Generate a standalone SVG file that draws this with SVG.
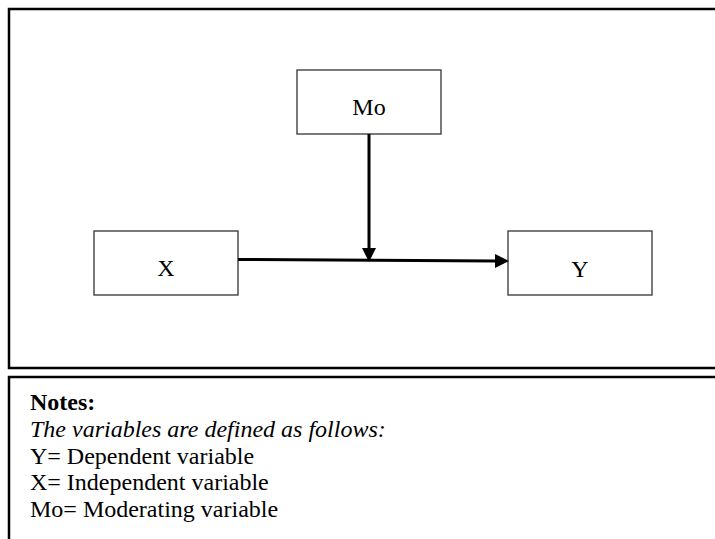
<svg xmlns="http://www.w3.org/2000/svg" width="715" height="539" viewBox="0 0 715 539">
<defs>
<style>
.frame{fill:none;stroke:#000;stroke-width:2.5}
.box{fill:#fff;stroke:#333;stroke-width:1.3}
.lbl{font-family:"Liberation Serif","Times New Roman",serif;font-size:24px;fill:#000;text-anchor:middle}
.note{font-family:"Liberation Serif","Times New Roman",serif;font-size:24px;fill:#000}
.conn{stroke:#000;stroke-width:3;fill:none}
</style>
<marker id="ah" markerUnits="userSpaceOnUse" markerWidth="14" markerHeight="14" viewBox="0 0 14 14" refX="0" refY="7" orient="auto">
<path d="M0,0 L14,7 L0,14 z" fill="#000"/>
</marker>
</defs>
<rect class="frame" x="9" y="9" width="730" height="359"/>
<rect class="frame" x="9" y="377" width="730" height="200"/>
<g id="node-mo">
<rect class="box" x="297" y="70" width="144" height="64"/>
<text class="lbl" x="369" y="115">Mo</text>
</g>
<g id="node-x">
<rect class="box" x="94" y="231" width="144" height="64"/>
<text class="lbl" x="166" y="276">X</text>
</g>
<g id="node-y">
<rect class="box" x="508" y="231" width="144" height="64"/>
<text class="lbl" x="580" y="277">Y</text>
</g>
<g id="connectors">
<line class="conn" x1="238" y1="259.5" x2="495" y2="261" marker-end="url(#ah)"/>
<line class="conn" x1="369" y1="134" x2="369" y2="248" marker-end="url(#ah)"/>
</g>
<g id="notes">
<text class="note" x="30" y="410" font-weight="bold">Notes:</text>
<text class="note" x="30" y="437" font-style="italic">The variables are defined as follows:</text>
<text class="note" x="30" y="464">Y= Dependent variable</text>
<text class="note" x="30" y="490">X= Independent variable</text>
<text class="note" x="30" y="517">Mo= Moderating variable</text>
</g>
</svg>
